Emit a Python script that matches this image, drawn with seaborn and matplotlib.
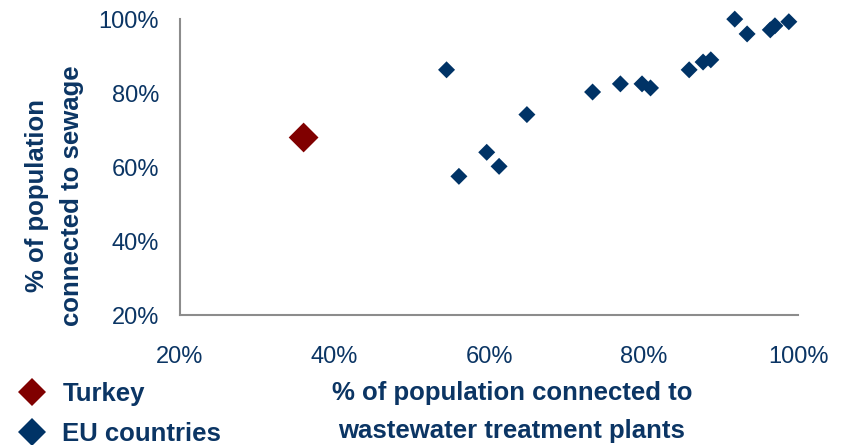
import pandas as pd
import matplotlib.pyplot as plt
import seaborn as sns
from matplotlib.lines import Line2D
from matplotlib.ticker import PercentFormatter

# Data (fractions)
turkey_x = [0.36]
turkey_y = [0.68]
eu_x = [0.545, 0.561, 0.597, 0.613, 0.649, 0.734, 0.770, 0.798, 0.809,
        0.859, 0.877, 0.887, 0.918, 0.934, 0.964, 0.970, 0.988]
eu_y = [0.863, 0.575, 0.640, 0.602, 0.742, 0.803, 0.825, 0.825, 0.814,
        0.863, 0.884, 0.890, 1.000, 0.960, 0.971, 0.982, 0.993]
ticks = [0.2, 0.4, 0.6, 0.8, 1.0]

navy = '#003366'
text_col = '#0B3564'
dark_red = '#800000'

sns.set_style('white')
plt.rcParams['font.family'] = ['Liberation Sans', 'DejaVu Sans']

eu = pd.DataFrame({'x': eu_x, 'y': eu_y})
tr = pd.DataFrame({'x': turkey_x, 'y': turkey_y})

fig = plt.figure(figsize=(8.41, 4.45), dpi=100)
ax = fig.add_axes([0.214, 0.292, 0.735, 0.665])

sns.scatterplot(data=eu, x='x', y='y', marker='D', s=75, color=navy,
                edgecolor='none', ax=ax, legend=False, zorder=3, clip_on=False)
sns.scatterplot(data=tr, x='x', y='y', marker='D', s=230, color=dark_red,
                edgecolor='none', ax=ax, legend=False, zorder=3, clip_on=False)

ax.set_xlim(0.2, 1.0)
ax.set_ylim(0.2, 1.0)
ax.set_xticks(ticks)
ax.set_yticks(ticks)
ax.xaxis.set_major_formatter(PercentFormatter(1.0, decimals=0))
ax.yaxis.set_major_formatter(PercentFormatter(1.0, decimals=0))
ax.tick_params(axis='both', length=0, labelsize=17, labelcolor=text_col)
ax.tick_params(axis='x', pad=22)
ax.tick_params(axis='y', pad=15)

sns.despine(ax=ax)
for side in ['left', 'bottom']:
    ax.spines[side].set_color('#8c8c8c')
    ax.spines[side].set_linewidth(1.5)

ax.set_xlabel('% of population connected to\nwastewater treatment plants',
              fontsize=18.5, fontweight='bold', color=text_col, linespacing=1.75)
ax.xaxis.set_label_coords(0.537, -0.222, transform=ax.transAxes)
ax.xaxis.label.set_va('top')
ax.set_ylabel('% of population\nconnected to sewage', fontsize=18.5,
              fontweight='bold', color=text_col, linespacing=1.6)
ax.yaxis.set_label_coords(-0.203, 0.405, transform=ax.transAxes)
ax.yaxis.label.set_va('center')

handles = [
    Line2D([], [], linestyle='none', marker='D', markersize=14,
           color=dark_red, markeredgewidth=0, label='Turkey'),
    Line2D([], [], linestyle='none', marker='D', markersize=14,
           color=navy, markeredgewidth=0, label='EU countries'),
]
leg = fig.legend(handles=handles, loc='center left',
                 bbox_to_anchor=(0.01, 1 - 414 / 445),
                 frameon=False, handletextpad=0.6, handlelength=1.2,
                 labelspacing=0.62, borderpad=0, borderaxespad=0.3,
                 prop={'size': 18.5, 'weight': 'bold'})
for t in leg.get_texts():
    t.set_color(text_col)

fig.savefig('out.png', dpi=100)
